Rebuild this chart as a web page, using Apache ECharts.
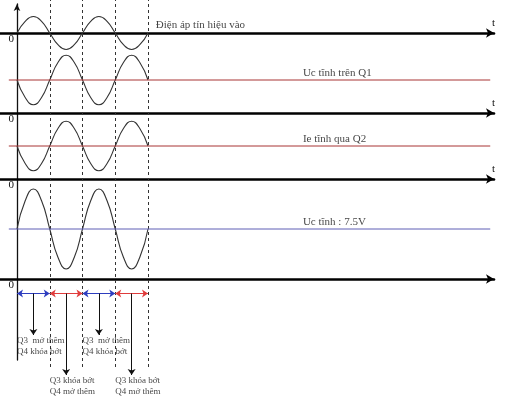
<!DOCTYPE html>
<html><head><meta charset="utf-8">
<script src="https://cdn.jsdelivr.net/npm/echarts@6/dist/echarts.min.js"></script>
<style>html,body{margin:0;padding:0;background:#fff}#c{width:507px;height:400px}</style>
</head><body><div id="c"></div>
<script>
// ---- data (time in half-periods of the input signal) ----
const tSamples    = [0,0.25,0.5,0.75,1,1.25,1.5,1.75,2,2.25,2.5,2.75,3,3.25,3.5,3.75,4];
const inputSignal = [0,0.71,1,0.71,0,-0.71,-1,-0.71,0,0.71,1,0.71,0,-0.71,-1,-0.71,0];
const ucQ1        = [4,1.88,1,1.88,4,6.12,7,6.12,4,1.88,1,1.88,4,6.12,7,6.12,4];
const ieQ2        = [4,1.88,1,1.88,4,6.12,7,6.12,4,1.88,1,1.88,4,6.12,7,6.12,4];
const ucOut       = [7.5,11.74,13.5,11.74,7.5,3.26,1.5,3.26,7.5,11.74,13.5,11.74,7.5,3.26,1.5,3.26,7.5];
const staticLevels = [4, 4, 7.5];               // Uc Q1, Ie Q2, Uc (7.5 V)
const panelLabels  = ['Điện áp tín hiệu vào', 'Uc tĩnh trên Q1', 'Ie tĩnh qua Q2', 'Uc tĩnh : 7.5V'];
const switchTimes  = [1, 2, 3, 4];
const phaseStarts  = [0, 1, 2, 3];
const phaseEnds    = [1, 2, 3, 4];
const phaseKinds   = [0, 1, 0, 1];               // 0: Q3 opens more, 1: Q3 closes
const stateTexts   = ['Q3  mở thêm\nQ4 khóa bớt', 'Q3 khóa bớt\nQ4 mở thêm'];
const axisName     = 't';
const originTick   = [0];

// ---- layout / style ----
const X_MIN = -17 / 32.75, X_MAX = X_MIN + 494 / 32.75;
const FONT = 'Liberation Serif';
const TXT = '#111';
const staticSpan = [-0.25, 14.45];
const labelAt = [4.24, 8.73, 8.73, 8.73];
const phaseColors = ['#2d3dbf', '#e03c3c'];
const staticColors = ['#a83434', '#a83434', '#5e5eb5'];

const chart = echarts.init(document.getElementById('c'), null, {renderer: 'canvas'});

// each panel's time axis sits on the bottom edge of its grid (value 0)
const panels = [
  {top: 8.25, height: 24.75, min: 0, max: 1.5, wave: inputSignal, name: axisName},
  {top: 47,   height: 66,    min: 0, max: 8,   wave: ucQ1, name: axisName},
  {top: 113,  height: 66,    min: 0, max: 8,   wave: ieQ2, name: axisName},
  {top: 179,  height: 100,   min: 0, max: 15,  wave: ucOut, name: ''}
];

const grids = [], xAxes = [], yAxes = [], series = [];
const mkGrid = (top, height) => ({left: 0, width: 494, top: top, height: height, containLabel: false, outerBoundsMode: 'none'});
const hiddenX = (gi) => ({type: 'value', gridIndex: gi, min: X_MIN, max: X_MAX, show: false});

panels.forEach((p, i) => {
  grids.push(mkGrid(p.top, p.height));
  xAxes.push({
    type: 'value', gridIndex: i, min: X_MIN, max: X_MAX,
    axisLine: {show: true, onZero: true, symbol: ['none', 'arrow'], symbolSize: [7, 8],
      lineStyle: {color: '#000', width: 2.6}},
    axisTick: {show: false}, splitLine: {show: false},
    axisLabel: {show: true, customValues: originTick, formatter: v => String(v), align: 'right',
      margin: 1, padding: [0, 3, 0, 0], fontFamily: FONT, fontSize: 11, color: TXT,
      showMinLabel: true, showMaxLabel: true},
    name: p.name, nameLocation: 'end', nameGap: 0,
    nameTextStyle: {fontFamily: FONT, fontSize: 11, color: TXT, verticalAlign: 'bottom', align: 'left', padding: [0, 0, 4, -2]}
  });
  yAxes.push({type: 'value', gridIndex: i, min: p.min, max: p.max, show: false});
  series.push({
    type: 'line', xAxisIndex: i, yAxisIndex: i, smooth: 0.5, showSymbol: false, silent: true, clip: false,
    data: tSamples.map((t, k) => [t, p.wave[k]]),
    lineStyle: {color: '#333', width: 1.1}
  });
  if (i > 0) {
    const lv = staticLevels[i - 1];
    series.push({
      type: 'line', xAxisIndex: i, yAxisIndex: i, showSymbol: false, silent: true, clip: false,
      data: [[staticSpan[0], lv], [staticSpan[1], lv]],
      lineStyle: {color: staticColors[i - 1], width: 1}
    });
  }
  const ly = i === 0 ? 0 : staticLevels[i - 1];
  series.push({
    type: 'scatter', xAxisIndex: i, yAxisIndex: i, symbolSize: 0, silent: true, clip: false,
    data: [[labelAt[i], ly]],
    label: {show: true, position: 'right', distance: 0, offset: [0, i === 0 ? -8 : -7],
      formatter: panelLabels[i], fontFamily: FONT, fontSize: 11, color: TXT}
  });
});

// grid 4: dashed switching lines across all panels
grids.push(mkGrid(0, 367));
xAxes.push(hiddenX(4));
yAxes.push({type: 'value', gridIndex: 4, min: 0, max: 1, show: false});
series.push({
  type: 'lines', coordinateSystem: 'cartesian2d', xAxisIndex: 4, yAxisIndex: 4, silent: true,
  data: switchTimes.map(t => ({coords: [[t, 0], [t, 1]]})),
  lineStyle: {color: '#333', width: 1, type: [3, 3], opacity: 1}
});

// grid 5: shared vertical axis
grids.push(mkGrid(4, 356));
xAxes.push(hiddenX(5));
yAxes.push({
  type: 'value', gridIndex: 5, min: 0, max: 1,
  axisLine: {show: true, onZero: true, symbol: ['none', 'arrow'], symbolSize: [5, 7], lineStyle: {color: '#111', width: 1.3}},
  axisTick: {show: false}, axisLabel: {show: false}, splitLine: {show: false}
});

// grid 6: transistor state annotations
grids.push(mkGrid(280, 120));
xAxes.push(hiddenX(6));
yAxes.push({type: 'value', gridIndex: 6, min: 0, max: 120, inverse: true, show: false});
[0, 1].forEach(kind => {
  const idx = phaseKinds.map((k, j) => (k === kind ? j : -1)).filter(j => j >= 0);
  series.push({
    type: 'lines', coordinateSystem: 'cartesian2d', xAxisIndex: 6, yAxisIndex: 6, silent: true,
    symbol: ['arrow', 'arrow'], symbolSize: 6,
    data: idx.map(j => ({coords: [[phaseStarts[j], 13.5], [phaseEnds[j], 13.5]]})),
    lineStyle: {color: phaseColors[kind], width: 1.2, opacity: 1}
  });
  series.push({
    type: 'lines', coordinateSystem: 'cartesian2d', xAxisIndex: 6, yAxisIndex: 6, silent: true,
    symbol: ['none', 'arrow'], symbolSize: 6,
    data: idx.map(j => ({coords: [[(phaseStarts[j] + phaseEnds[j]) / 2, 13.5], [(phaseStarts[j] + phaseEnds[j]) / 2, kind === 0 ? 55 : 95]]})),
    lineStyle: {color: '#111', width: 1, opacity: 1}
  });
  series.push({
    type: 'scatter', xAxisIndex: 6, yAxisIndex: 6, symbolSize: 0, silent: true,
    data: idx.map(j => [phaseStarts[j], kind === 0 ? 55.5 : 95.5]),
    label: {show: true, position: [0, 0], align: 'left', verticalAlign: 'top',
      formatter: stateTexts[kind], fontFamily: FONT, fontSize: 9, lineHeight: 11, color: TXT}
  });
});

chart.setOption({
  animation: false,
  backgroundColor: '#fff',
  grid: grids, xAxis: xAxes, yAxis: yAxes, series: series
});
</script>
</body></html>
